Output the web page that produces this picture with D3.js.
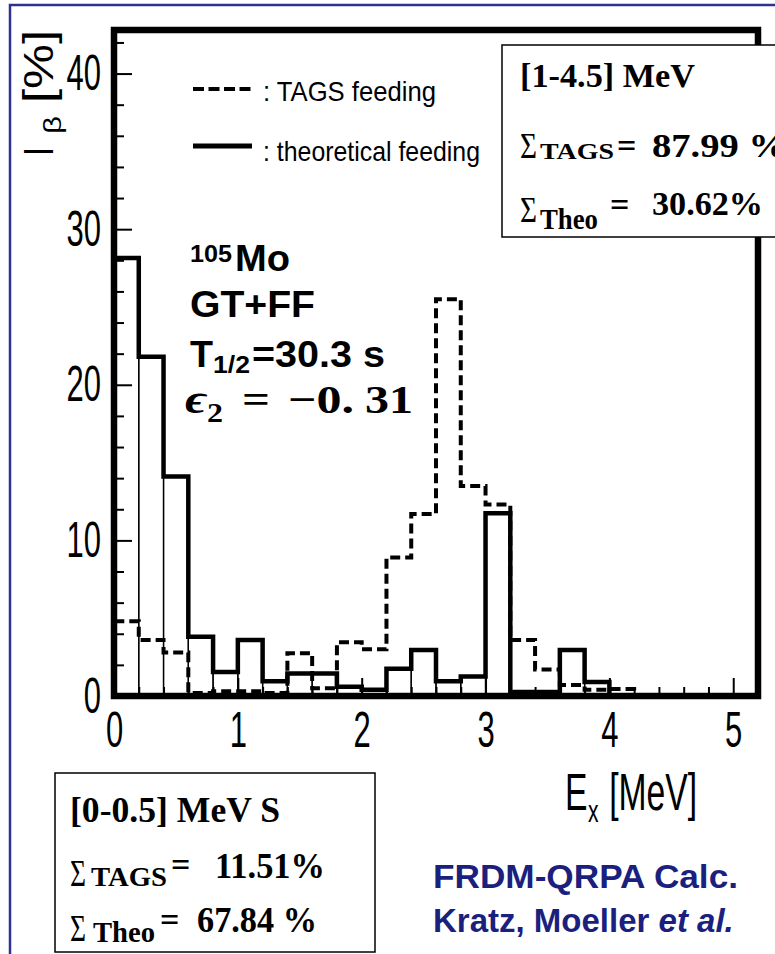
<!DOCTYPE html>
<html>
<head>
<meta charset="utf-8">
<script src="https://cdn.jsdelivr.net/npm/d3@7"></script>
<style>
  html, body { margin: 0; padding: 0; background: #fff; }
  svg { display: block; }
</style>
</head>
<body>
<script>
// Beta feeding of 105Mo versus excitation energy: TAGS result and FRDM-QRPA theory

// Lower edges of the 0.2 MeV energy bins
const binLow = [0.0, 0.2, 0.4, 0.6, 0.8, 1.0, 1.2, 1.4, 1.6, 1.8,
                2.0, 2.2, 2.4, 2.6, 2.8, 3.0, 3.2, 3.4, 3.6, 3.8,
                4.0, 4.2, 4.4, 4.6, 4.8, 5.0];
// Measured (TAGS) feeding in %
const tagsFeeding = [4.8, 3.6, 2.8, 0.2, 0.3, 0.3, 0.2, 2.75, 0.5, 3.45,
                     3.0, 8.9, 11.7, 25.5, 13.5, 12.3, 3.6, 1.7, 0.7, 0.4,
                     0.45, 0.0, 0.0, 0.0, 0.0, 0.0];
// Theoretical feeding in %
const theoFeeding = [28.15, 21.8, 14.1, 3.8, 1.55, 3.6, 0.95, 1.45, 1.45, 0.6,
                     0.4, 1.75, 2.95, 0.95, 1.25, 11.75, 0.25, 0.25, 2.95, 0.9,
                     0.0, 0.0, 0.0, 0.0, 0.0, 0.0];

const xTickValues = [0, 1, 2, 3, 4, 5];
const yTickValues = [0, 10, 20, 30, 40];
const legendLabels = [": TAGS feeding", ": theoretical feeding"];

const W = 775, H = 954;
const binWidth = binLow[1] - binLow[0];
const xMax = binLow[binLow.length - 1] + binWidth;

const svg = d3.select("body").append("svg")
  .attr("width", W).attr("height", H)
  .attr("viewBox", `0 0 ${W} ${H}`);

svg.append("rect").attr("width", W).attr("height", H).attr("fill", "#fff");

// outer navy frame of the slide
svg.append("rect")
  .attr("x", 10).attr("y", 5).attr("width", 800).attr("height", 1000)
  .attr("fill", "none").attr("stroke", "#2e3192").attr("stroke-width", 2.5);

const x = d3.scaleLinear().domain([0, xMax]).range([114, 758]);
const y = d3.scaleLinear().domain([0, 42.8]).range([696, 30]);

const sans = "'Liberation Sans', Arial, Helvetica, sans-serif";
const serif = "'Liberation Serif', 'Times New Roman', serif";

function txt(parent, o) {
  const t = parent.append("text")
    .attr("x", o.x).attr("y", o.y)
    .attr("font-family", o.family || sans)
    .attr("font-size", o.size)
    .attr("font-weight", o.weight || "normal")
    .attr("font-style", o.style || "normal")
    .attr("text-anchor", o.anchor || "start")
    .attr("fill", o.fill || "#000")
    .text(o.text);
  if (o.len) t.attr("textLength", o.len).attr("lengthAdjust", "spacingAndGlyphs");
  return t;
}

// ---- histogram bins ----
const tagsBins = binLow.map((lo, i) => ({ lo, v: tagsFeeding[i] }));
const theoBins = binLow.map((lo, i) => ({ lo, v: theoFeeding[i] }));

function stepPoints(bins) {
  const pts = [{ e: bins[0].lo, v: 0 }];
  bins.forEach(b => pts.push({ e: b.lo, v: b.v }));
  pts.push({ e: xMax, v: 0 });
  return pts;
}
const stepLine = d3.line()
  .x(d => x(d.e)).y(d => y(d.v))
  .curve(d3.curveStepAfter);

const plot = svg.append("g");

// thin bar outlines of the theoretical histogram
plot.append("g").selectAll("rect")
  .data(theoBins.filter(d => d.v > 0))
  .join("rect")
  .attr("x", d => x(d.lo))
  .attr("width", d => x(d.lo + binWidth) - x(d.lo))
  .attr("y", d => y(d.v))
  .attr("height", d => y(0) - y(d.v))
  .attr("fill", "none").attr("stroke", "#000").attr("stroke-width", 1.3);

// theoretical feeding, solid thick step
plot.append("path")
  .datum(stepPoints(theoBins))
  .attr("d", stepLine)
  .attr("fill", "none").attr("stroke", "#000")
  .attr("stroke-width", 4.5).attr("stroke-linejoin", "miter");

// TAGS feeding, dashed thick step
plot.append("path")
  .datum(stepPoints(tagsBins))
  .attr("d", stepLine)
  .attr("fill", "none").attr("stroke", "#000")
  .attr("stroke-width", 4).attr("stroke-dasharray", "10 5");

// ---- axes ----
const minorX = d3.range(0, xMax + 1e-9, binWidth).filter(v => Math.abs(v - Math.round(v)) > 1e-6);
const minorY = d3.range(0, 42.8, 2).filter(v => v % 10 !== 0);

const xAxisG = svg.append("g").attr("transform", `translate(0,${y(0)})`);
xAxisG.append("g").call(d3.axisBottom(x).tickValues(minorX).tickSizeInner(-9).tickSizeOuter(0).tickFormat(""));
xAxisG.append("g").call(d3.axisBottom(x).tickValues(xTickValues).tickSizeInner(-18).tickSizeOuter(0)
  .tickPadding(16).tickFormat(d3.format("d")));
xAxisG.selectAll(".domain").remove();

const yAxisG = svg.append("g").attr("transform", `translate(${x(0)},0)`);
yAxisG.append("g").call(d3.axisLeft(y).tickValues(minorY).tickSizeInner(-10).tickSizeOuter(0).tickFormat(""));
yAxisG.append("g").call(d3.axisLeft(y).tickValues(yTickValues).tickSizeInner(-18).tickSizeOuter(0)
  .tickPadding(21).tickFormat(d3.format("d")));
yAxisG.selectAll(".domain").remove();

svg.selectAll(".tick line").attr("stroke", "#000").attr("stroke-width", 2);
svg.selectAll(".tick text")
  .attr("font-family", sans).attr("font-size", 50).attr("fill", "#000")
  .attr("transform", "scale(0.62,1)");

// plot frame
svg.append("rect")
  .attr("x", x(0)).attr("y", y(42.8))
  .attr("width", x(xMax) - x(0)).attr("height", y(0) - y(42.8))
  .attr("fill", "none").attr("stroke", "#000").attr("stroke-width", 6.5);

// ---- axis titles ----
const yt = svg.append("g").attr("transform", "translate(53,0) rotate(-90)");
txt(yt, { x: -156, y: 0, text: "I", size: 42, len: 9 });
txt(yt, { x: -134, y: 8, text: "β", size: 24, len: 18 });
txt(yt, { x: -103, y: 0, text: "[%]", size: 42, len: 73 });

// E_x [MeV] in a narrowed sans face
const xt = svg.append("g").attr("transform", "translate(565,810) scale(0.66,1)")
  .append("text").attr("font-family", sans).attr("font-size", 51).attr("fill", "#000");
xt.append("tspan").attr("x", 0).attr("y", 0).text("E");
xt.append("tspan").attr("x", 35).attr("y", 12).attr("font-size", 32).text("x");
xt.append("tspan").attr("x", 67).attr("y", 0).text("[MeV]");

// ---- legend ----
svg.append("line").attr("x1", 193).attr("x2", 252).attr("y1", 89).attr("y2", 89)
  .attr("stroke", "#000").attr("stroke-width", 4).attr("stroke-dasharray", "11 4.5");
svg.append("line").attr("x1", 193).attr("x2", 252).attr("y1", 146).attr("y2", 146)
  .attr("stroke", "#000").attr("stroke-width", 5);
txt(svg, { x: 263, y: 101, text: legendLabels[0], size: 28, len: 173 });
txt(svg, { x: 263, y: 161, text: legendLabels[1], size: 28, len: 217 });

// ---- nucleus annotation ----
txt(svg, { x: 190, y: 262, text: "105", size: 24, weight: "bold", len: 42 });
txt(svg, { x: 235, y: 271, text: "Mo", size: 37, weight: "bold", len: 55 });
txt(svg, { x: 190, y: 317, text: "GT+FF", size: 37, weight: "bold", len: 125 });
txt(svg, { x: 190, y: 367, text: "T", size: 37, weight: "bold", len: 23 });
txt(svg, { x: 213, y: 373, text: "1/2", size: 24, weight: "bold", len: 37 });
txt(svg, { x: 252, y: 367, text: "=30.3 s", size: 37, weight: "bold", len: 133 });

txt(svg, { x: 185, y: 413, text: "ϵ", size: 40, weight: "bold", style: "italic", family: serif, len: 22 });
txt(svg, { x: 207, y: 422, text: "2", size: 28, weight: "bold", family: serif, len: 16 });
txt(svg, { x: 242, y: 413, text: "=", size: 40, weight: "bold", family: serif, len: 28 });
txt(svg, { x: 288, y: 413, text: "−0.", size: 40, weight: "bold", family: serif, len: 66 });
txt(svg, { x: 365, y: 413, text: "31", size: 40, weight: "bold", family: serif, len: 48 });

// ---- summary box, upper right ----
svg.append("rect").attr("x", 502).attr("y", 45).attr("width", 320).attr("height", 192)
  .attr("fill", "#fff").attr("stroke", "#000").attr("stroke-width", 1.5);
txt(svg, { x: 520, y: 87, text: "[1-4.5] MeV", size: 34, weight: "bold", family: serif, len: 175 });
txt(svg, { x: 520, y: 158, text: "Σ", size: 36, family: serif, len: 17 });
txt(svg, { x: 540, y: 159, text: "TAGS", size: 23, weight: "bold", family: serif, len: 74 });
txt(svg, { x: 617, y: 157, text: "=", size: 34, weight: "bold", family: serif });
txt(svg, { x: 652, y: 157, text: "87.99 %", size: 34, weight: "bold", family: serif, len: 135 });
txt(svg, { x: 520, y: 222, text: "Σ", size: 36, family: serif, len: 17 });
txt(svg, { x: 540, y: 229, text: "Theo", size: 30, weight: "bold", family: serif, len: 58 });
txt(svg, { x: 610, y: 216, text: "=", size: 34, weight: "bold", family: serif });
txt(svg, { x: 652, y: 215, text: "30.62%", size: 34, weight: "bold", family: serif, len: 111 });

// ---- summary box, lower left ----
svg.append("rect").attr("x", 55).attr("y", 773).attr("width", 320).attr("height", 179)
  .attr("fill", "#fff").attr("stroke", "#000").attr("stroke-width", 1.5);
txt(svg, { x: 70, y: 822, text: "[0-0.5] MeV S", size: 35, weight: "bold", family: serif, len: 210 });
txt(svg, { x: 70, y: 886, text: "Σ", size: 38, family: serif, len: 16 });
txt(svg, { x: 91, y: 886, text: "TAGS", size: 28, weight: "bold", family: serif, len: 76 });
txt(svg, { x: 171, y: 876, text: "=", size: 34, weight: "bold", family: serif });
txt(svg, { x: 215, y: 878, text: "11.51%", size: 35, weight: "bold", family: serif, len: 110 });
txt(svg, { x: 70, y: 941, text: "Σ", size: 38, family: serif, len: 16 });
txt(svg, { x: 93, y: 942, text: "Theo", size: 30, weight: "bold", family: serif, len: 62 });
txt(svg, { x: 160, y: 931, text: "=", size: 34, weight: "bold", family: serif });
txt(svg, { x: 197, y: 932, text: "67.84 %", size: 35, weight: "bold", family: serif, len: 120 });

// ---- calculation credit ----
const navy = "#1b1f7e";
txt(svg, { x: 433, y: 888, text: "FRDM-QRPA Calc.", size: 33, weight: "bold", fill: navy, len: 305 });
const credit = svg.append("text")
  .attr("x", 433).attr("y", 932)
  .attr("font-family", sans).attr("font-size", 33).attr("font-weight", "bold")
  .attr("fill", navy);
credit.append("tspan").text("Kratz, Moeller ");
credit.append("tspan").attr("font-style", "italic").text("et al.");
</script>
</body>
</html>
